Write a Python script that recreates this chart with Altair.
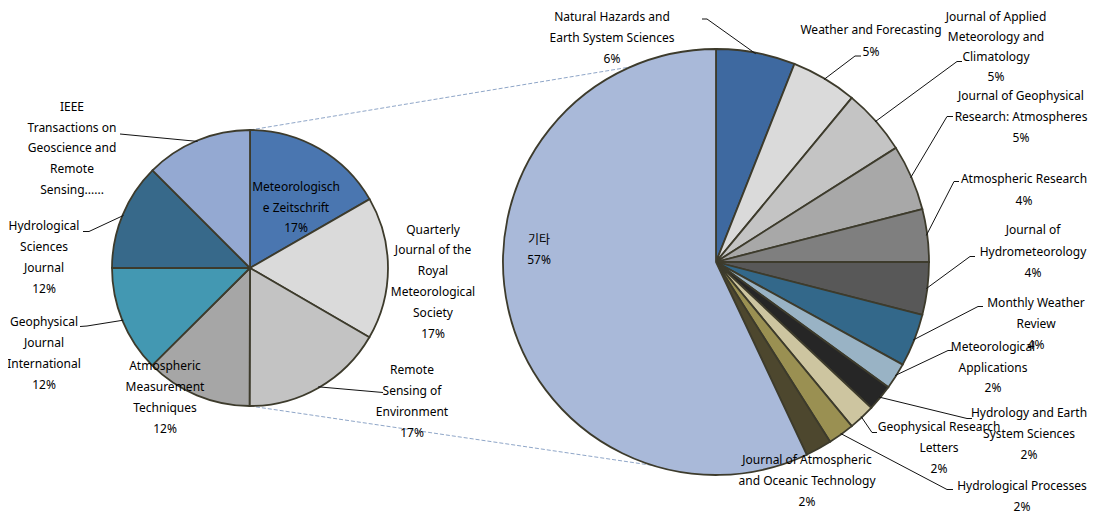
import math
import altair as alt
import pandas as pd

# ---------------- data ----------------
left_names = [
    "Meteorologische Zeitschrift",
    "Quarterly Journal of the Royal Meteorological Society",
    "Remote Sensing of Environment",
    "Atmospheric Measurement Techniques",
    "Geophysical Journal International",
    "Hydrological Sciences Journal",
    "IEEE Transactions on Geoscience and Remote Sensing",
]
left_shares = [16.7, 16.7, 16.7, 12.5, 12.5, 12.5, 12.5]
left_pct = ["17%", "17%", "17%", "12%", "12%", "12%", ""]
left_label_lines = [
    ["Meteorologisch", "e Zeitschrift"],
    ["Quarterly", "Journal of the", "Royal", "Meteorological", "Society"],
    ["Remote", "Sensing of", "Environment"],
    ["Atmospheric", "Measurement", "Techniques"],
    ["Geophysical", "Journal", "International"],
    ["Hydrological", "Sciences", "Journal"],
    ["IEEE", "Transactions on", "Geoscience and", "Remote", "Sensing......"],
]
left_colors = ["#4A76B0", "#DADADA", "#C3C3C3", "#A6A6A6", "#4398B2", "#37698A", "#94A9D2"]

right_names = [
    "Natural Hazards and Earth System Sciences",
    "Weather and Forecasting",
    "Journal of Applied Meteorology and Climatology",
    "Journal of Geophysical Research: Atmospheres",
    "Atmospheric Research",
    "Journal of Hydrometeorology",
    "Monthly Weather Review",
    "Meteorological Applications",
    "Hydrology and Earth System Sciences",
    "Geophysical Research Letters",
    "Hydrological Processes",
    "Journal of Atmospheric and Oceanic Technology",
    "기타",
]
right_shares = [6, 5, 5, 5, 4, 4, 4, 2, 2, 2, 2, 2, 57]
right_pct = ["6%", "5%", "5%", "5%", "4%", "4%", "4%", "2%", "2%", "2%", "2%", "2%", "57%"]
right_label_lines = [
    ["Natural Hazards and", "Earth System Sciences"],
    ["Weather and Forecasting"],
    ["Journal of Applied", "Meteorology and", "Climatology"],
    ["Journal of Geophysical", "Research: Atmospheres"],
    ["Atmospheric Research"],
    ["Journal of", "Hydrometeorology"],
    ["Monthly Weather", "Review"],
    ["Meteorological", "Applications"],
    ["Hydrology and Earth", "System Sciences"],
    ["Geophysical Research", "Letters"],
    ["Hydrological Processes"],
    ["Journal of Atmospheric", "and Oceanic Technology"],
    ["기타"],
]
right_colors = ["#3E69A0", "#DADADA", "#C4C4C4", "#A8A8A8", "#7F7F7F", "#585858", "#33688A",
                "#99B3C5", "#262626", "#CDC5A0", "#9A9052", "#4D472E", "#A9B9D9"]

# ---------------- layout (image pixel coordinates) ----------------
L_CX, L_CY, L_R = 250, 268, 138
R_CX, R_CY, R_R = 716, 262, 213

# label block: (x centre, y of first line, line spacing)
left_label_pos = [
    (296, 187, 20.7), (433, 229.5, 20.8), (412, 369.5, 21), (165, 365.5, 21),
    (44, 321.5, 21), (44, 225.7, 21), (72, 106.7, 20.8),
]
right_label_pos = [
    (612, 16.5, 21.3), (871, 29.5, 22), (996, 16.5, 20.2), (1021, 95.7, 21),
    (1024, 179.3, 21.7), (1033, 230, 21.7), (1036, 302.7, 21.2), (993, 347.3, 20.5),
    (1029, 413.3, 20.8), (939, 426.7, 21.3), (1022, 486, 20.7), (807, 460, 20.8),
    (539, 240, 20),
]
# leader lines: label-side points (the pie-side end is computed from the slice angle)
left_leaders = {
    2: [(383, 392.5)],
    4: [(80, 326.5), (87, 326)],
    5: [(83, 231.5), (89, 231.5)],
    6: [(120, 134)],
}
right_leaders = {
    0: [(702, 19), (707, 19)],
    1: [(861, 56), (855, 56)],
    2: [(962, 61.5), (957, 61.5)],
    3: [(953, 116.5), (947, 116.5)],
    4: [(959, 181.5), (954, 181.5)],
    5: [(975, 256.5), (970, 256.5)],
    6: [(983, 306.5), (978, 306.5)],
    7: [(953, 350.5), (948, 350.5)],
    8: [(972, 418.5), (967, 418.5)],
    9: [(877, 432.5), (872, 432.5)],
    10: [(953, 489.5), (947, 489.5)],
}
# dashed connectors: angle (deg) on right pie where they meet it
conn_angles_right = [336.3, 197.2]

FONT = "Noto Sans, Noto Sans CJK KR, sans-serif"
TEXT_COLOR = "#000000"
STROKE = "#3D3B2C"


def mid_angles(shares):
    tot = sum(shares)
    out, c = [], 0.0
    for s in shares:
        out.append((c + s / 2) / tot * 2 * math.pi)
        c += s
    return out


def on_circle(cx, cy, r, a):
    return (cx + r * math.sin(a), cy - r * math.cos(a))


# ---------------- tables ----------------
left_df = pd.DataFrame({"name": left_names, "value": left_shares,
                        "color": left_colors, "idx": range(len(left_names))})
right_df = pd.DataFrame({"name": right_names, "value": right_shares,
                         "color": right_colors, "idx": range(len(right_names))})

text_rows = []
for lines, pct, (x, y, sp) in zip(left_label_lines, left_pct, left_label_pos):
    all_lines = lines + ([pct] if pct else [])
    for i, t in enumerate(all_lines):
        text_rows.append({"x": x, "y": y + i * sp, "t": t})
for lines, pct, (x, y, sp) in zip(right_label_lines, right_pct, right_label_pos):
    for i, t in enumerate(lines + [pct]):
        text_rows.append({"x": x, "y": y + i * sp, "t": t})
text_df = pd.DataFrame(text_rows)

line_rows = []
lm = mid_angles(left_shares)
for k, pts in left_leaders.items():
    ex, ey = on_circle(L_CX, L_CY, L_R - 1, lm[k])
    for j, (px, py) in enumerate(pts + [(ex, ey)]):
        line_rows.append({"g": f"L{k}", "o": j, "x": px, "y": py})
rm = mid_angles(right_shares)
for k, pts in right_leaders.items():
    ex, ey = on_circle(R_CX, R_CY, R_R - 1, rm[k])
    for j, (px, py) in enumerate(pts + [(ex, ey)]):
        line_rows.append({"g": f"R{k}", "o": j, "x": px, "y": py})
line_df = pd.DataFrame(line_rows)

conn_rows = []
for la, ra in [(0.0, conn_angles_right[0]), (math.pi, conn_angles_right[1])]:
    x1, y1 = on_circle(L_CX, L_CY, L_R, la)
    x2, y2 = on_circle(R_CX, R_CY, R_R, math.radians(ra))
    conn_rows.append({"x": x1, "y": y1, "x2": x2, "y2": y2})
conn_df = pd.DataFrame(conn_rows)

W, H = 1080, 506
xs = alt.Scale(domain=[8, 8 + W], range=[0, W])
ys = alt.Scale(domain=[8, 8 + H], range=[0, H])

conn = alt.Chart(conn_df).mark_rule(color="#8FA6C8", strokeWidth=1, strokeDash=[4, 2]).encode(
    x=alt.X("x:Q", scale=xs, axis=None), y=alt.Y("y:Q", scale=ys, axis=None),
    x2="x2:Q", y2="y2:Q")

left_pie = alt.Chart(left_df).mark_arc(
    x=L_CX - 8, y=L_CY - 8, outerRadius=L_R, stroke=STROKE, strokeWidth=1.8
).encode(theta=alt.Theta("value:Q", stack=True),
         color=alt.Color("color:N", scale=None),
         order=alt.Order("idx:Q"))

right_pie = alt.Chart(right_df).mark_arc(
    x=R_CX - 8, y=R_CY - 8, outerRadius=R_R, stroke=STROKE, strokeWidth=1.8
).encode(theta=alt.Theta("value:Q", stack=True),
         color=alt.Color("color:N", scale=None),
         order=alt.Order("idx:Q"))

leaders = alt.Chart(line_df).mark_line(color="#111111", strokeWidth=1).encode(
    x=alt.X("x:Q", scale=xs, axis=None), y=alt.Y("y:Q", scale=ys, axis=None),
    detail="g:N", order="o:Q")

texts = alt.Chart(text_df).mark_text(
    font=FONT, fontSize=12, color=TEXT_COLOR, align="center", baseline="middle"
).encode(x=alt.X("x:Q", scale=xs, axis=None), y=alt.Y("y:Q", scale=ys, axis=None), text="t:N")

chart = alt.layer(conn, right_pie, left_pie, leaders, texts).resolve_scale(
    theta="independent"
).properties(
    width=W, height=H, padding=0, autosize=alt.AutoSizeParams(type="none")
).configure_view(strokeWidth=0)

chart.save("out.html", embed_options={"renderer": "svg", "actions": False})
